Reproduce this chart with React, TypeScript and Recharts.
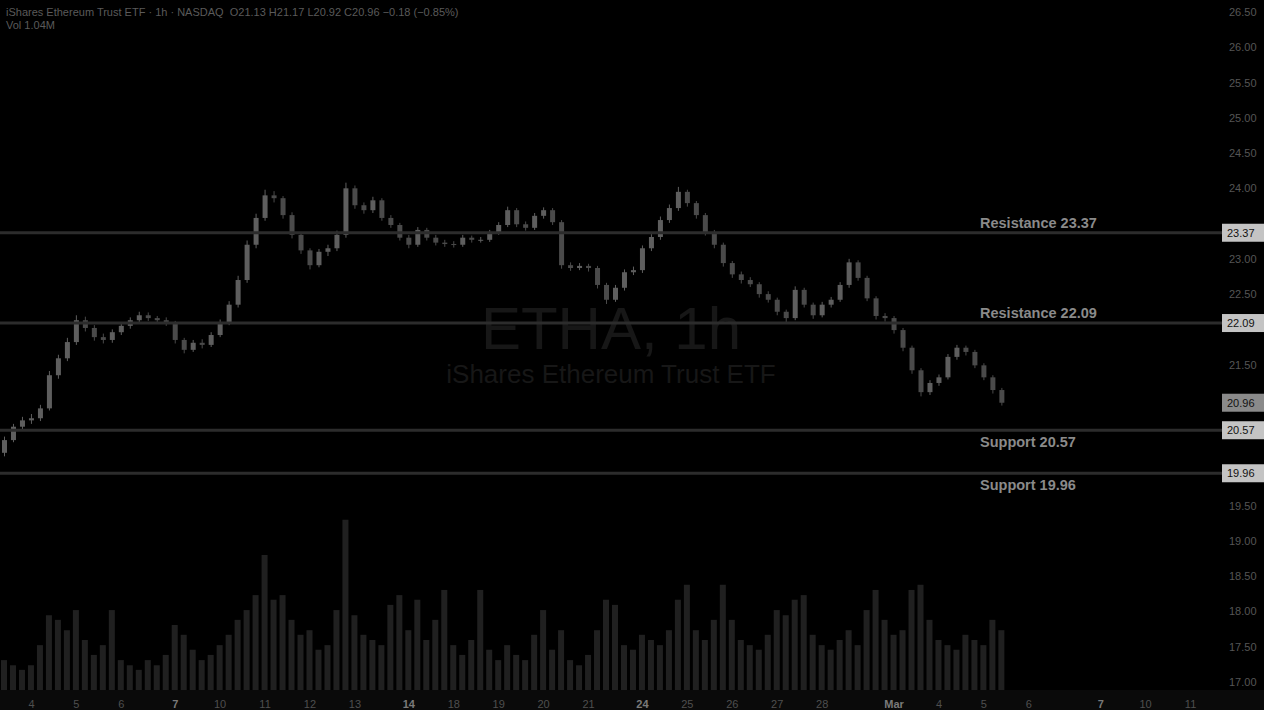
import { ComposedChart, Bar, XAxis, YAxis, ReferenceLine } from "recharts";

// hourly candles
const opens = [
  20.25, 20.43, 20.62, 20.71, 20.74, 20.88, 21.35, 21.59, 21.82, 22.13,
  22.02, 21.89, 21.85, 21.96, 22.05, 22.13, 22.2, 22.16, 22.13, 22.1,
  21.85, 21.71, 21.81, 21.78, 21.92, 22.1, 22.35, 22.7, 23.2, 23.58,
  23.9, 23.86, 23.62, 23.34, 23.12, 22.91, 23.1, 23.15, 23.34, 24.0,
  23.76, 23.69, 23.83, 23.58, 23.48, 23.3, 23.2, 23.41, 23.3, 23.23,
  23.21, 23.2, 23.3, 23.27, 23.27, 23.37, 23.48, 23.69, 23.49, 23.44,
  23.61, 23.69, 23.52, 22.91, 22.87, 22.9, 22.87, 22.63, 22.42, 22.59,
  22.81, 22.84, 23.15, 23.31, 23.55, 23.72, 23.95, 23.79, 23.62, 23.38,
  23.2, 22.94, 22.78, 22.7, 22.64, 22.5, 22.42, 22.25, 22.16, 22.56,
  22.35, 22.2, 22.35, 22.42, 22.63, 22.95, 22.73, 22.44, 22.19, 22.16,
  21.99, 21.74, 21.42, 21.11, 21.24, 21.32, 21.61, 21.74, 21.68, 21.49,
  21.32, 21.14,
];
const highs = [
  20.48, 20.66, 20.76, 20.8, 20.93, 21.41, 21.64, 21.88, 22.2, 22.18,
  22.06, 21.94, 22.0, 22.09, 22.17, 22.25, 22.24, 22.19, 22.17, 22.12,
  21.88, 21.85, 21.86, 21.96, 22.14, 22.4, 22.76, 23.26, 23.64, 23.98,
  23.96, 23.89, 23.66, 23.38, 23.15, 23.14, 23.2, 23.4, 24.08, 24.04,
  23.8, 23.88, 23.86, 23.62, 23.51, 23.34, 23.45, 23.44, 23.34, 23.27,
  23.25, 23.34, 23.33, 23.31, 23.41, 23.52, 23.74, 23.72, 23.53, 23.65,
  23.73, 23.72, 23.55, 22.95, 22.94, 22.93, 22.9, 22.66, 22.63, 22.85,
  22.89, 23.19, 23.35, 23.6, 23.77, 24.02, 23.98, 23.82, 23.65, 23.41,
  23.23, 22.97, 22.82, 22.74, 22.67, 22.54, 22.45, 22.28, 22.61, 22.59,
  22.38, 22.39, 22.46, 22.67, 23.0, 22.98, 22.76, 22.47, 22.23, 22.19,
  22.02, 21.77, 21.45, 21.28, 21.36, 21.65, 21.78, 21.77, 21.71, 21.52,
  21.35, 21.17,
];
const lows = [
  20.2, 20.4, 20.57, 20.66, 20.7, 20.85, 21.3, 21.55, 21.78, 21.97,
  21.84, 21.8, 21.81, 21.92, 22.01, 22.09, 22.12, 22.08, 22.05, 21.8,
  21.66, 21.68, 21.73, 21.75, 21.89, 22.06, 22.31, 22.66, 23.15, 23.54,
  23.8, 23.57, 23.29, 23.07, 22.85, 22.88, 23.04, 23.11, 23.3, 23.71,
  23.64, 23.65, 23.54, 23.44, 23.26, 23.15, 23.17, 23.26, 23.19, 23.17,
  23.16, 23.17, 23.23, 23.23, 23.24, 23.34, 23.45, 23.45, 23.4, 23.41,
  23.57, 23.48, 22.86, 22.83, 22.84, 22.82, 22.58, 22.36, 22.39, 22.55,
  22.77, 22.8, 23.11, 23.27, 23.51, 23.68, 23.74, 23.57, 23.33, 23.15,
  22.89, 22.73, 22.65, 22.6, 22.45, 22.38, 22.2, 22.1, 22.13, 22.31,
  22.15, 22.17, 22.31, 22.39, 22.59, 22.69, 22.4, 22.14, 22.11, 21.94,
  21.69, 21.37, 21.05, 21.07, 21.2, 21.29, 21.57, 21.63, 21.45, 21.28,
  21.09, 20.92,
];
const closes = [
  20.43, 20.62, 20.71, 20.74, 20.88, 21.35, 21.59, 21.82, 22.13, 22.02,
  21.89, 21.85, 21.96, 22.05, 22.13, 22.2, 22.16, 22.13, 22.1, 21.85,
  21.71, 21.81, 21.78, 21.92, 22.1, 22.35, 22.7, 23.2, 23.58, 23.9,
  23.86, 23.62, 23.34, 23.12, 22.91, 23.1, 23.15, 23.34, 24.0, 23.76,
  23.69, 23.83, 23.58, 23.48, 23.3, 23.2, 23.41, 23.3, 23.23, 23.21,
  23.2, 23.3, 23.27, 23.27, 23.37, 23.48, 23.69, 23.49, 23.44, 23.61,
  23.69, 23.52, 22.91, 22.87, 22.9, 22.87, 22.63, 22.42, 22.59, 22.81,
  22.84, 23.15, 23.31, 23.55, 23.72, 23.95, 23.79, 23.62, 23.38, 23.2,
  22.94, 22.78, 22.7, 22.64, 22.5, 22.42, 22.25, 22.16, 22.56, 22.35,
  22.2, 22.35, 22.42, 22.63, 22.95, 22.73, 22.44, 22.19, 22.16, 21.99,
  21.74, 21.42, 21.11, 21.24, 21.32, 21.61, 21.74, 21.68, 21.49, 21.32,
  21.14, 20.96,
];
// volume in thousands of shares
const volumes = [
  520, 430, 350, 430, 780, 1300, 1220, 1040, 1390, 870,
  610, 780, 1390, 520, 430, 350, 520, 430, 610, 1130,
  960, 700, 520, 610, 780, 960, 1220, 1390, 1650, 2350,
  1570, 1650, 1220, 960, 1040, 700, 780, 1390, 2960, 1300,
  960, 870, 780, 1480, 1650, 1040, 1570, 870, 1220, 1740,
  780, 610, 870, 1740, 700, 520, 780, 610, 520, 960,
  1390, 700, 1040, 520, 430, 610, 1040, 1570, 1480, 780,
  700, 960, 870, 780, 1040, 1570, 1830, 1040, 870, 1220,
  1830, 1220, 870, 780, 700, 960, 1390, 1300, 1570, 1650,
  960, 780, 700, 870, 1040, 780, 1390, 1740, 1220, 960,
  1040, 1740, 1830, 1220, 870, 780, 700, 960, 870, 780,
  1220, 1040,
];

const SLOTS = 136; // bars plus empty space on the right
const tickIdx = [3, 8, 13, 19, 24, 29, 34, 39, 45, 50, 55, 60, 65, 71, 76, 81, 86, 91, 99, 104, 109, 114, 122, 127, 132];
const tickLabels = ["4", "5", "6", "7", "10", "11", "12", "13", "14", "18", "19", "20", "21", "24", "25", "26", "27", "28", "Mar", "4", "5", "6", "7", "10", "11"];
const priceTicks = [26.5, 26, 25.5, 25, 24.5, 24, 23, 22.5, 21.5, 19.5, 19, 18.5, 18, 17.5, 17];

const levelNames = ["Resistance", "Resistance", "Support", "Support"];
const levelPrices = [23.37, 22.09, 20.57, 19.96];

const W = 1264;
const H = 710;
const AXIS_W = 42;
const XAXIS_H = 20;
const FONT = "'Liberation Sans', Arial, sans-serif";

const rows = Array.from({ length: SLOTS }, (_, i) =>
  i < closes.length
    ? { i, range: [lows[i], highs[i]], o: opens[i], h: highs[i], l: lows[i], c: closes[i], vol: volumes[i] }
    : { i }
);

function Candle(props: any) {
  const { x, y, width, height, payload } = props;
  if (!payload || payload.c == null) return null;
  const { o, h, l, c } = payload;
  const top = Math.min(y, y + height);
  const hh = Math.abs(height);
  const px = hh / (h - l || 1);
  const bodyTop = top + (h - Math.max(o, c)) * px;
  const bodyH = Math.max(1, Math.abs(o - c) * px);
  const cx = x + width / 2;
  const color = c >= o ? "#5e5e5e" : "#4a4a4a";
  return (
    <g>
      <line x1={cx} x2={cx} y1={top} y2={top + hh} stroke={color} strokeWidth={1} />
      <rect x={x} y={bodyTop} width={width} height={bodyH} fill={color} />
    </g>
  );
}

function XTick(props: any) {
  const { x, y, payload } = props;
  const k = tickIdx.indexOf(payload.value);
  if (k < 0) return null;
  const bold = [3, 8, 13, 18, 22].includes(k);
  return (
    <text x={x} y={y + 6} textAnchor="middle" dominantBaseline="central" fontSize={11} fontFamily={FONT}
      fill={bold ? "#7a7a7a" : "#4f4f4f"} fontWeight={bold ? 700 : 400}>
      {tickLabels[k]}
    </text>
  );
}

function YTick(props: any) {
  const { y, payload } = props;
  return (
    <text x={W - AXIS_W + 7} y={y} dominantBaseline="central" fontSize={11} fontFamily={FONT} fill="#555">
      {payload.value.toFixed(2)}
    </text>
  );
}

function PriceBox(props: any) {
  const { viewBox, price, name, fill } = props;
  if (!viewBox) return null;
  const ly = viewBox.y;
  const ax = viewBox.x + viewBox.width;
  return (
    <g>
      {name ? (
        <text x={980} y={name === "Resistance" ? ly - 10 : ly + 12} dominantBaseline="central" fontSize={14.5}
          fontWeight={700} fontFamily={FONT} fill="#8a8a8a">
          {name} {price.toFixed(2)}
        </text>
      ) : null}
      <rect x={ax} y={ly - 9} width={AXIS_W} height={18} fill={fill} />
      <text x={ax + 5} y={ly} dominantBaseline="central" fontSize={11} fontFamily={FONT} fill="#111">
        {price.toFixed(2)}
      </text>
    </g>
  );
}

export default function App() {
  const last = closes[closes.length - 1];
  return (
    <div style={{ position: "fixed", left: 0, top: 0, width: W, height: H, background: "#000", overflow: "hidden" }}>
      <div style={{ position: "absolute", left: 0, top: H - XAXIS_H, width: W, height: XAXIS_H, background: "#0a0a0a" }} />
      {/* watermark */}
      <div style={{ position: "absolute", left: 0, width: W - AXIS_W, top: 299, textAlign: "center", fontFamily: FONT, fontSize: 60, lineHeight: "60px", color: "#171717" }}>
        ETHA, 1h
      </div>
      <div style={{ position: "absolute", left: 0, width: W - AXIS_W, top: 361, textAlign: "center", fontFamily: FONT, fontSize: 26, lineHeight: "26px", color: "#171717" }}>
        iShares Ethereum Trust ETF
      </div>

      {/* volume pane behind candles */}
      <div style={{ position: "absolute", left: 0, top: 0 }}>
        <ComposedChart width={W} height={H} data={rows} margin={{ top: 0, right: 0, bottom: 0, left: 0 }}>
          <XAxis dataKey="i" height={XAXIS_H} tick={false} axisLine={false} tickLine={false} />
          <YAxis yAxisId="v" orientation="right" width={AXIS_W} domain={[0, 12000]} tick={false} axisLine={false} tickLine={false} />
          <Bar yAxisId="v" dataKey="vol" fill="#202020" barSize={6} isAnimationActive={false} />
        </ComposedChart>
      </div>

      <div style={{ position: "absolute", left: 0, top: 0 }}>
        <ComposedChart width={W} height={H} data={rows} margin={{ top: 0, right: 0, bottom: 0, left: 0 }}>
          <XAxis dataKey="i" height={XAXIS_H} ticks={tickIdx} interval={0} tick={<XTick />} axisLine={false} tickLine={false} />
          <YAxis yAxisId="p" orientation="right" width={AXIS_W} domain={[16.887, 26.67]} ticks={priceTicks}
            allowDataOverflow tick={<YTick />} axisLine={false} tickLine={false} />
          {levelPrices.map((p, k) => (
            <ReferenceLine key={k} yAxisId="p" y={p} stroke="#2c2c2c" strokeWidth={3}
              label={<PriceBox price={p} name={levelNames[k]} fill="#c4c4c4" />} />
          ))}
          <ReferenceLine yAxisId="p" y={last} stroke="none" label={<PriceBox price={last} fill="#8a8a8a" />} />
          <Bar yAxisId="p" dataKey="range" shape={<Candle />} barSize={5} isAnimationActive={false} />
        </ComposedChart>
      </div>

      {/* legend */}
      <div style={{ position: "absolute", left: 6, top: 5, fontFamily: FONT, fontSize: 11, lineHeight: "14px", color: "#5a5a5a", whiteSpace: "nowrap" }}>
        iShares Ethereum Trust ETF · 1h · NASDAQ&nbsp;&nbsp;O21.13 H21.17 L20.92 C20.96 −0.18 (−0.85%)
      </div>
      <div style={{ position: "absolute", left: 6, top: 18, fontFamily: FONT, fontSize: 11, lineHeight: "14px", color: "#5a5a5a", whiteSpace: "nowrap" }}>
        Vol 1.04M
      </div>
    </div>
  );
}
